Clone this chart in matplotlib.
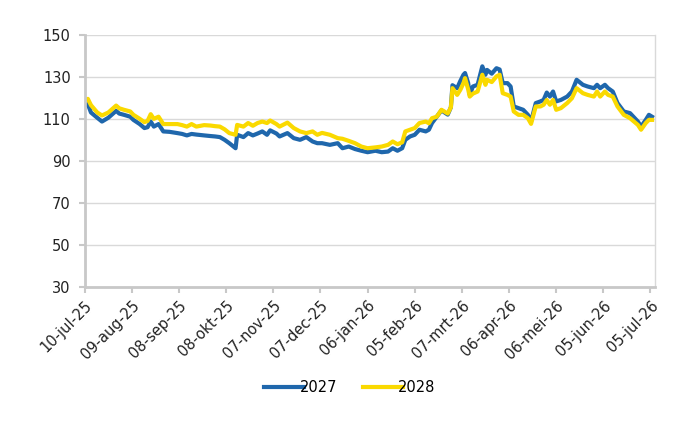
import numpy as np
import pandas as pd
import matplotlib.pyplot as plt

plt.rcParams['font.family'] = ['DejaVu Sans']

# dagen na 10-jul-25
dagen = [0, 2, 4, 8, 11, 15, 20, 22, 25, 29, 31, 35, 38, 40, 42, 44, 47, 50, 54, 59,
         62, 65, 68, 71, 76, 80, 83, 86, 89, 92, 96, 97, 101, 104, 107, 110, 113, 116, 118, 122,
         124, 129, 133, 137, 141, 145, 148, 151, 156, 161, 164, 168, 172, 176, 180, 185, 189, 193, 196, 199,
         202, 204, 207, 210, 213, 217, 219, 221, 224, 227, 231, 233, 234, 237, 239, 241, 242, 244, 245, 247,
         250, 253, 255, 256, 259, 262, 264, 266, 269, 271, 273, 276, 279, 282, 284, 287, 290, 292, 294, 296,
         298, 300, 303, 307, 310, 313, 317, 320, 324, 326, 328, 331, 333, 336, 339, 343, 347, 352, 354, 357,
         359, 361]

y2027 = [116.3, 117, 113, 110.5, 108.7, 110.5, 113.8, 112.5, 111.9, 111, 109.5, 107.5, 105.6, 106, 108.7, 106.3, 107.5, 104, 103.8, 103.2,
         102.8, 102.1, 102.8, 102.5, 102.1, 101.8, 101.6, 101.3, 100, 98.4, 96, 102.4, 101.3, 103.2, 102.1, 103, 104, 102.4, 104.5, 103,
         101.6, 103.2, 100.8, 100, 101.3, 99.2, 98.4, 98.4, 97.6, 98.4, 96, 96.8, 95.6, 94.8, 94.1, 94.8, 94.1, 94.4, 96, 94.8,
         96, 100, 101.6, 102.4, 104.8, 104, 104.8, 108, 111, 114, 112, 115.5, 126, 124.6, 128, 131, 131.8, 127, 121.4, 125.4,
         126.2, 135, 131, 133.3, 131.5, 134.1, 133.5, 127, 127, 125.4, 115.9, 115.1, 114.3, 111.9, 108.7, 117.5, 118.3, 119, 122.5, 120.6,
         123, 118.3, 119, 120.6, 123, 128.6, 126.2, 125.4, 124.6, 126.2, 124.6, 126.2, 124.6, 123, 117.5, 113.5, 112.7, 108.7, 106.3, 109.5,
         111.9, 111]

y2028 = [119, 119.5, 116.5, 113, 111.6, 113, 116.3, 115, 114.3, 113.5, 111.9, 110, 108.4, 109, 112.2, 110, 111, 107.5, 107.5, 107.5,
         107, 106.3, 107.5, 106.3, 107, 106.8, 106.5, 106.3, 105, 103.2, 102.4, 107.1, 106.3, 108, 106.7, 108, 108.7, 108, 109.2, 107.5,
         106.3, 108.2, 105.6, 104, 103.2, 104, 102.4, 103.3, 102.4, 100.8, 100.5, 99.5, 98.4, 96.8, 96, 96.4, 96.8, 97.6, 99.2, 97.9,
         98.8, 104, 104.8, 105.6, 108, 108.7, 107.9, 110.3, 111, 114.3, 112.5, 115.5, 124.6, 121.4, 123.8, 127, 129.4, 124, 120.6, 122,
         123, 131, 126.2, 128.6, 127.5, 130.2, 131, 122.2, 121.4, 120.6, 113.5, 111.9, 111.9, 110.3, 107.6, 115.9, 115.9, 116.7, 119, 116.7,
         119, 114.3, 115.1, 117.5, 119.8, 124.6, 122.2, 121.4, 120.6, 123, 120.6, 123, 121.4, 120.6, 115.9, 111.9, 110.3, 107.1, 104.8, 108,
         109.5, 109.5]

tick_labels = ['10-jul-25', '09-aug-25', '08-sep-25', '08-okt-25', '07-nov-25', '07-dec-25', '06-jan-26',
               '05-feb-26', '07-mrt-26', '06-apr-26', '06-mei-26', '05-jun-26', '05-jul-26']

start = pd.Timestamp('2025-07-10')
datums = start + pd.to_timedelta(dagen, unit='D')
tick_datums = pd.date_range(start, periods=len(tick_labels), freq='30D')

fig = plt.figure(figsize=(7, 4.3), dpi=100)
ax = fig.add_axes([0.121, 0.333, 0.815, 0.586])

ax.plot(datums, y2027, color='#1F67AC', lw=3, label='2027', solid_joinstyle='round')
ax.plot(datums, y2028, color='#FAD900', lw=3, label='2028', solid_joinstyle='round')

ax.set_ylim(30, 150)
ax.set_yticks(range(30, 151, 20))
ax.set_xlim(start, start + pd.Timedelta(days=363))
ax.set_xticks(tick_datums)
ax.set_xticklabels(tick_labels, rotation=45, ha='right', rotation_mode='anchor')

ax.grid(axis='y', color='#D9D9D9', lw=1)
ax.set_axisbelow(True)
for s in ['left', 'bottom']:
    ax.spines[s].set_color('#C8C8C8')
    ax.spines[s].set_linewidth(2)
ax.spines['right'].set_color('#D9D9D9')
ax.spines['right'].set_linewidth(1)
ax.spines['top'].set_visible(False)
ax.tick_params(axis='both', colors='#C8C8C8', labelcolor='#222222', labelsize=10.5, length=4, width=1.5)
ax.tick_params(axis='y', pad=6)
ax.tick_params(axis='x', pad=4)

fig.legend(loc='center', bbox_to_anchor=(0.5, 0.098), ncol=2, frameon=False,
           fontsize=10.5, handlelength=2.7, handletextpad=-0.3, columnspacing=1.8)

fig.savefig('out.png', dpi=100)
